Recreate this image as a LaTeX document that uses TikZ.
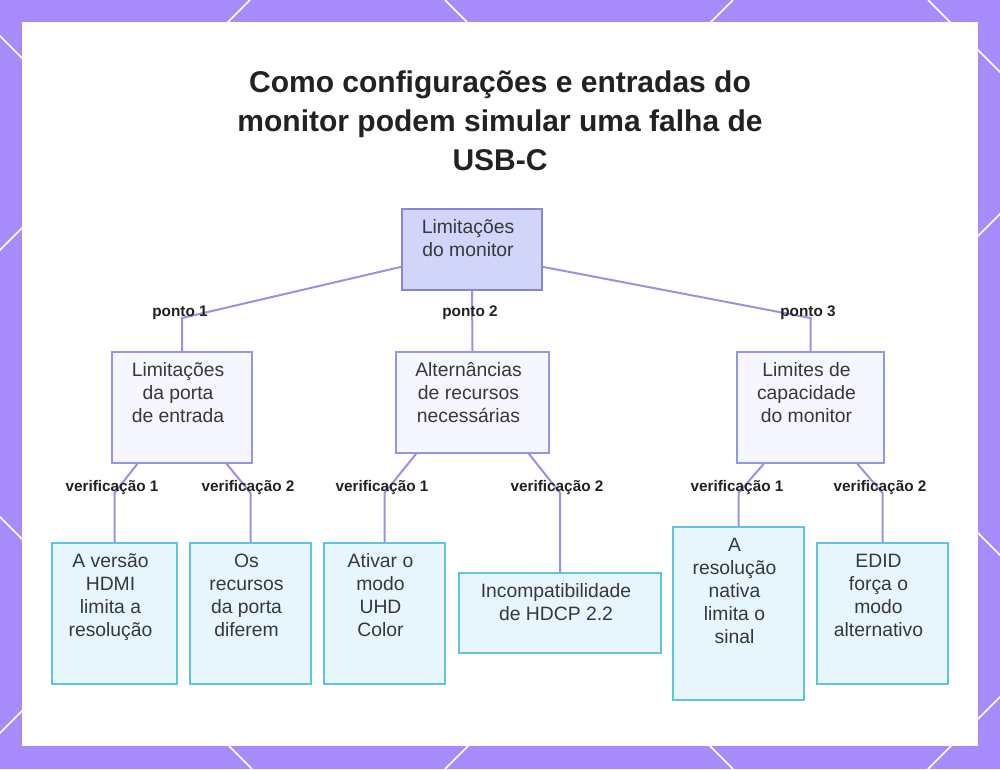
\documentclass[tikz,border=0pt]{standalone}
\usepackage{fontspec}
\setmainfont{Liberation Sans}
\usetikzlibrary{calc}
\definecolor{bgpurple}{HTML}{A78BFA}
\definecolor{linkpurple}{HTML}{A68BE3}
\definecolor{rootfill}{HTML}{D2D5FA}
\definecolor{rootdraw}{HTML}{8A86DA}
\definecolor{midfill}{HTML}{F5F6FF}
\definecolor{middraw}{HTML}{8E98E6}
\definecolor{leaffill}{HTML}{E7F6FD}
\definecolor{leafdraw}{HTML}{5EC4E0}
\definecolor{ink}{HTML}{222222}

\begin{document}
\begin{tikzpicture}[x=0.75pt,y=-0.75pt,
  box/.style={rectangle, inner sep=0pt, line width=1.2pt},
  rootbox/.style={box, draw=rootdraw, fill=rootfill},
  midbox/.style={box, draw=middraw, fill=midfill},
  leafbox/.style={box, draw=leafdraw, fill=leaffill},
  boxtext/.style={anchor=north, inner sep=0pt, xshift=-3pt, yshift=-8.5pt, align=center,
    text=ink!90, font=\fontsize{14.5}{17.25}\selectfont},
  tag/.style={inner sep=0pt, text=ink, font=\fontsize{11.5}{14}\selectfont\bfseries},
  link/.style={draw=linkpurple, line width=1.5pt},
  lattice/.style={white, line width=1.2pt}]

\useasboundingbox (0,0) rectangle (1000,769);
\fill[bgpurple] (0,0) rectangle (1000,769);
\begin{scope}
\clip (0,0) rectangle (1000,769);
\foreach \c in {250,733,1214,1697}
  \draw[lattice] (\c,0) -- ({\c-769},769);
\foreach \d in {-517,-36,445,928}
  \draw[lattice] (\d,0) -- ({\d+769},769);
\end{scope}
\fill[white] (22,22) rectangle (978,746);

\node[text=ink, align=center, font=\fontsize{22.5}{29.25}\selectfont\bfseries] (title) at (500,121)
  {Como configurações e entradas do\\monitor podem simular uma falha de\\USB-C};

\node[rootbox, minimum width=105pt, minimum height=60.75pt] (root) at (472,249.5) {};
\node[boxtext] (roott) at (root.north) {Limitações\\do monitor};

\node[midbox, minimum width=105pt, minimum height=83.25pt] (a) at (182,407.5) {};
\node[boxtext] (at) at (a.north) {Limitações\\da porta\\de entrada};
\node[midbox, minimum width=114.75pt, minimum height=75.75pt] (b) at (472.5,402.5) {};
\node[boxtext] (bt) at (b.north) {Alternâncias\\de recursos\\necessárias};
\node[midbox, minimum width=110.25pt, minimum height=83.25pt] (c) at (810.5,407.5) {};
\node[boxtext] (ct) at (c.north) {Limites de\\capacidade\\do monitor};

\node[leafbox, minimum width=93.75pt, minimum height=105.75pt] (l1) at (114.5,613.5) {};
\node[boxtext] (l1t) at (l1.north) {A versão\\HDMI\\limita a\\resolução};
\node[leafbox, minimum width=90.75pt, minimum height=105.75pt] (l2) at (250.5,613.5) {};
\node[boxtext] (l2t) at (l2.north) {Os\\recursos\\da porta\\diferem};
\node[leafbox, minimum width=90.75pt, minimum height=105.75pt] (l3) at (384.5,613.5) {};
\node[boxtext] (l3t) at (l3.north) {Ativar o\\modo\\UHD\\Color};
\node[leafbox, minimum width=151.5pt, minimum height=60pt] (l4) at (560,613) {};
\node[boxtext] (l4t) at (l4.north) {Incompatibilidade\\de HDCP 2.2};
\node[leafbox, minimum width=98.25pt, minimum height=129.75pt] (l5) at (738.5,613.5) {};
\node[boxtext] (l5t) at (l5.north) {A\\resolução\\nativa\\limita o\\sinal};
\node[leafbox, minimum width=98.25pt, minimum height=105.75pt] (l6) at (882.5,613.5) {};
\node[boxtext] (l6t) at (l6.north) {EDID\\força o\\modo\\alternativo};

\draw[link] ($(root.west)!0.42!(root.south west)$) -- (a.north |- 0,318) -- (a.north);
\draw[link] (root.south) -- (b.north);
\draw[link] ($(root.east)!0.42!(root.south east)$) -- (c.north |- 0,318) -- (c.north);

\draw[link] ($(a.south)!0.63!(a.south west)$) -- (l1.north |- 0,493) -- (l1.north);
\draw[link] ($(a.south)!0.63!(a.south east)$) -- (l2.north |- 0,493) -- (l2.north);
\draw[link] ($(b.south)!0.73!(b.south west)$) -- (l3.north |- 0,493) -- (l3.north);
\draw[link] ($(b.south)!0.73!(b.south east)$) -- (l4.north |- 0,493) -- (l4.north);
\draw[link] ($(c.south)!0.63!(c.south west)$) -- (l5.north |- 0,493) -- (l5.north);
\draw[link] ($(c.south)!0.63!(c.south east)$) -- (l6.north |- 0,493) -- (l6.north);

\node[tag] (p1) at (180,313) {ponto 1};
\node[tag] (p2) at (470,313) {ponto 2};
\node[tag] (p3) at (808,313) {ponto 3};
\node[tag] (v11) at (112,488) {verificação 1};
\node[tag] (v12) at (248,488) {verificação 2};
\node[tag] (v21) at (382,488) {verificação 1};
\node[tag] (v22) at (557,488) {verificação 2};
\node[tag] (v31) at (737,488) {verificação 1};
\node[tag] (v32) at (880,488) {verificação 2};
\end{tikzpicture}
\end{document}
